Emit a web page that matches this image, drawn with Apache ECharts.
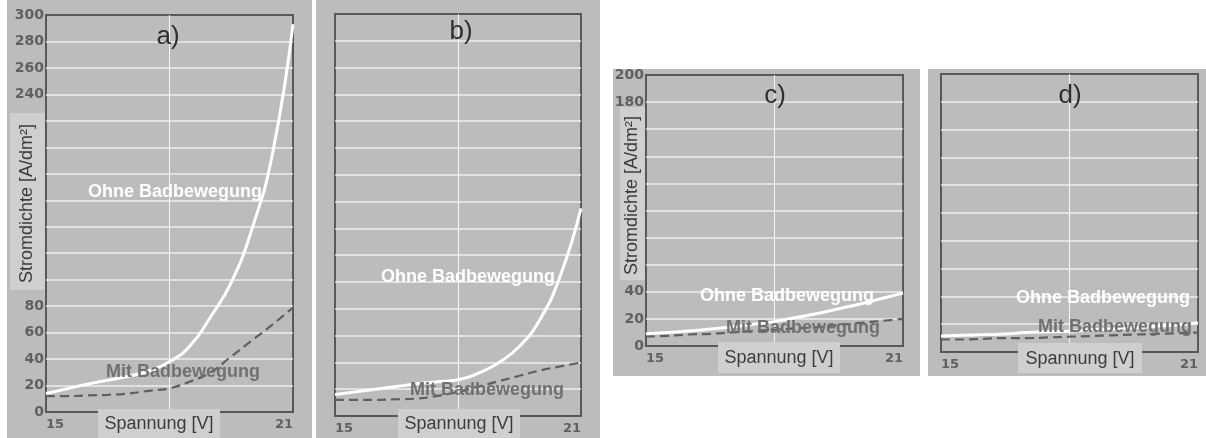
<!DOCTYPE html>
<html>
<head>
<meta charset="utf-8">
<script src="https://cdn.jsdelivr.net/npm/echarts@6/dist/echarts.min.js"></script>
<style>html,body{margin:0;padding:0;background:#fff;}#c{width:1206px;height:438px;}</style>
</head>
<body>
<div id="c"></div>
<script>
// ---- data ----
const volts = [15, 15.5, 16, 16.5, 17, 17.5, 18, 18.5, 19, 19.5, 20, 20.5, 21];
const ohneA = [14, 17.5, 21, 24, 27, 31, 38, 50, 72, 98, 138, 195, 293];
const mitA  = [12, 12, 12.5, 13, 14, 16, 18, 23, 30, 42, 54, 66, 79];
const ohneB = [16, 18, 20, 22, 24, 25.5, 27, 32, 40, 52, 72, 105, 155];
const mitB  = [12, 12, 12, 12.5, 13, 15, 18, 22, 26, 30, 34, 37, 40];
const ohneC = [9, 10, 11, 12.5, 14, 16, 18, 21, 24, 27.5, 31, 35, 39];
const mitC  = [7, 7.5, 8.5, 9, 10, 11, 12, 13, 14, 15.5, 17, 18.5, 20];
const ohneD = [11.5, 12, 12.5, 13, 14, 14.5, 15, 16, 16.5, 17.5, 18.5, 19.5, 21];
const mitD  = [9, 9, 9.5, 10, 10, 10.5, 11, 11.5, 12, 12.5, 13, 13.5, 14];
const yMax = [300, 300, 200, 200];
// visible tick labels (others hidden behind the axis-title box in the original)
const yTicksA = [0, 20, 40, 60, 80, 240, 260, 280, 300];
const yTicksB = [];
const yTicksC = [0, 20, 40, 180, 200];
const yTicksD = [];
const xTicks = [15, 21];
const panelLabels = ['a)', 'b)', 'c)', 'd)'];
const xTitle = 'Spannung [V]';
const yTitle = 'Stromdichte [A/dm²]';
const ohneName = 'Ohne Badbewegung';
const mitName = 'Mit Badbewegung';

const pairs = (ys) => volts.map((v, i) => [v, ys[i]]);
const ohne = [ohneA, ohneB, ohneC, ohneD];
const mit = [mitA, mitB, mitC, mitD];
const yTicks = [yTicksA, yTicksB, yTicksC, yTicksD];

const grids = [
  {left: 46, top: 15, width: 247, height: 397},
  {left: 335, top: 14, width: 246, height: 402},
  {left: 646, top: 75, width: 257, height: 271},
  {left: 941, top: 74, width: 257, height: 278}
];
const FONT = '"Liberation Sans", Arial, sans-serif';

const chart = echarts.init(document.getElementById('c'));

const xAxes = grids.map((g, i) => ({
  type: 'value', gridIndex: i, min: 15, max: 21, interval: 3,
  axisLine: {show: false}, axisTick: {show: false},
  splitLine: {show: true, showMinLine: false, showMaxLine: false, lineStyle: {color: 'rgba(255,255,255,0.85)', width: 1}},
  axisLabel: {
    show: true, color: '#606060', fontSize: 13, fontWeight: 'bold', fontFamily: 'DejaVu Sans',
    margin: 6, alignMinLabel: 'left', alignMaxLabel: 'right',
    formatter: (v) => xTicks.includes(v) ? String(v) : ''
  }
}));
const yAxes = grids.map((g, i) => ({
  type: 'value', gridIndex: i, min: 0, max: yMax[i], interval: 20,
  axisLine: {show: false}, axisTick: {show: false},
  splitLine: {show: true, showMinLine: false, showMaxLine: false, lineStyle: {color: 'rgba(245,245,245,0.85)', width: 1.6}},
  axisLabel: {show: yTicks[i].length > 0, color: '#606060', fontSize: 14, fontWeight: 'bold', fontFamily: 'DejaVu Sans', margin: 2,
    formatter: (v) => yTicks[i].includes(v) ? String(v) : ''}
}));

const series = [];
grids.forEach((g, i) => {
  series.push({
    type: 'line', xAxisIndex: i, yAxisIndex: i, data: pairs(mit[i]), smooth: true, symbol: 'none',
    lineStyle: {color: '#5f5f5f', width: 2.2, type: [9, 5]}, z: 3
  });
  series.push({
    type: 'line', xAxisIndex: i, yAxisIndex: i, data: pairs(ohne[i]), smooth: true, symbol: 'none',
    lineStyle: {color: '#ffffff', width: 3}, z: 4
  });
});

const panels = [
  {x: 7, y: 0, w: 305, h: 438},
  {x: 316, y: 0, w: 284, h: 438},
  {x: 613, y: 69, w: 307, h: 307},
  {x: 928, y: 69, w: 278, h: 307}
];
const graphic = [];
panels.forEach(p => graphic.push({type: 'rect', z: -10, shape: {x: p.x, y: p.y, width: p.w, height: p.h}, style: {fill: '#bcbcbc'}}));

// x title boxes
const xBoxes = [
  {x: 98, y: 409, w: 122, h: 29},
  {x: 398, y: 409, w: 122, h: 29},
  {x: 718, y: 342, w: 122, h: 31},
  {x: 1018, y: 343, w: 124, h: 30}
];
xBoxes.forEach(b => {
  graphic.push({type: 'rect', z: 100, shape: {x: b.x, y: b.y, width: b.w, height: b.h}, style: {fill: '#cfcfcf'}});
  graphic.push({type: 'text', z: 101, x: b.x + b.w / 2, y: b.y + b.h / 2 + 1,
    style: {text: xTitle, fill: '#3c3c3c', font: '18px ' + FONT, textAlign: 'center', textVerticalAlign: 'middle'}});
});
// y title boxes
const yBoxes = [
  {x: 10, y: 113, w: 35, h: 177},
  {x: 620, y: 107, w: 25, h: 173}
];
yBoxes.forEach(b => {
  graphic.push({type: 'rect', z: 100, shape: {x: b.x, y: b.y, width: b.w, height: b.h}, style: {fill: '#cfcfcf'}});
  graphic.push({type: 'text', z: 101, x: b.x + b.w / 2, y: b.y + b.h / 2 + 2, rotation: Math.PI / 2,
    style: {text: yTitle, fill: '#3c3c3c', font: '18px ' + FONT, textAlign: 'center', textVerticalAlign: 'middle'}});
});

// panel letters
const letterPos = [[168, 37], [461, 32], [775, 96], [1070, 96]];
letterPos.forEach((p, i) => graphic.push({type: 'text', z: 50, x: p[0], y: p[1],
  style: {text: panelLabels[i], fill: '#2e2e2e', font: '26px ' + FONT, textAlign: 'center', textVerticalAlign: 'middle'}}));

// series labels
const ohnePos = [[175, 192], [468, 277], [787, 296], [1103, 298]];
const mitPos = [[183, 372], [487, 390], [803, 328], [1115, 327]];
ohnePos.forEach(p => graphic.push({type: 'text', z: 50, x: p[0], y: p[1],
  style: {text: ohneName, fill: '#ffffff', font: 'bold 18px ' + FONT, textAlign: 'center', textVerticalAlign: 'middle'}}));
mitPos.forEach(p => graphic.push({type: 'text', z: 50, x: p[0], y: p[1],
  style: {text: mitName, fill: '#707070', font: 'bold 18px ' + FONT, textAlign: 'center', textVerticalAlign: 'middle'}}));

chart.setOption({
  animation: false,
  backgroundColor: '#ffffff',
  grid: grids.map(g => Object.assign({show: true, backgroundColor: 'transparent', borderColor: '#585858', borderWidth: 2}, g)),
  xAxis: xAxes,
  yAxis: yAxes,
  series: series,
  graphic: graphic
});
</script>
</body>
</html>
